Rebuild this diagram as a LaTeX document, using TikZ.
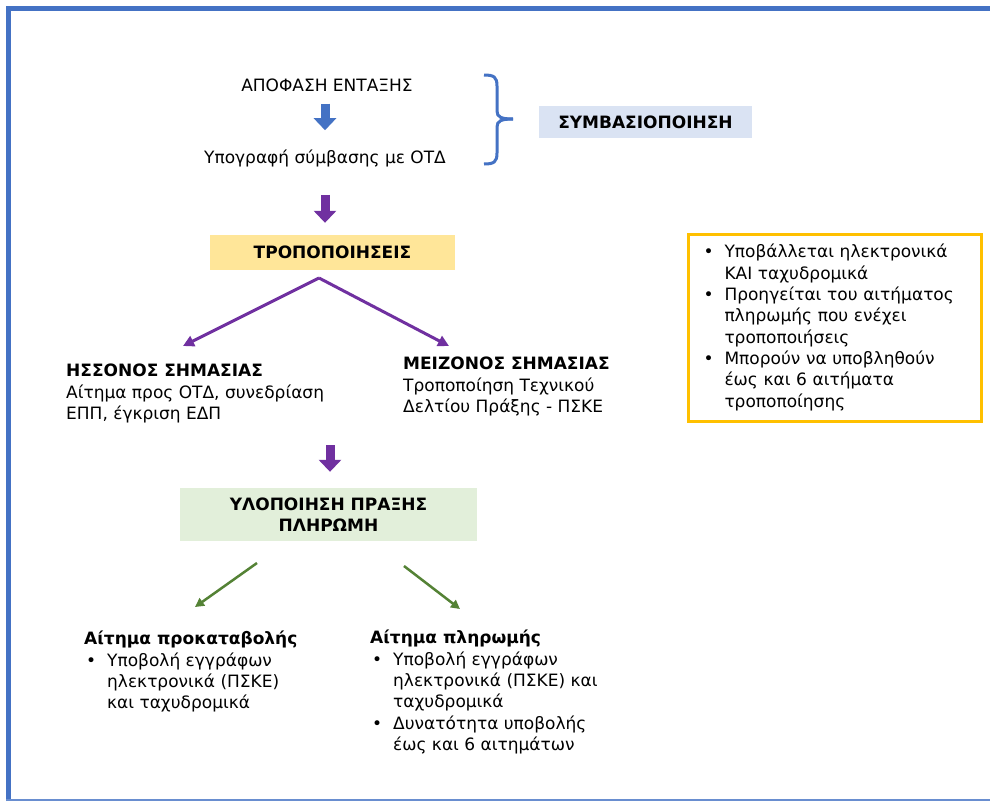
\documentclass[tikz,border=0pt]{standalone}
\usepackage{fontspec}
\setmainfont{DejaVu Sans}
\usetikzlibrary{positioning,arrows.meta}

\definecolor{frameblue}{HTML}{4472C4}
\definecolor{purplearr}{HTML}{7030A0}
\definecolor{greenarr}{HTML}{548235}
\definecolor{boxblue}{HTML}{DAE3F3}
\definecolor{boxyellow}{HTML}{FFE699}
\definecolor{boxgreen}{HTML}{E2EFDA}
\definecolor{notegold}{HTML}{FFC000}

\newcommand{\basefont}{\fontsize{17}{21.3}\selectfont}
\newcommand{\bul}{\makebox[23pt][l]{\hspace*{2pt}\textbullet}}
\newcommand{\ind}{\hspace*{23pt}}

\tikzset{
  stagebox/.style={inner sep=0pt, font=\basefont\bfseries},
  textblock/.style={inner sep=0pt, anchor=north west, align=left},
  bigarrow/.style={line width=9pt, -{Triangle[length=12pt,width=22pt]}},
  fork/.style={purplearr, line width=3pt, -{Triangle[length=11pt,width=11pt]}},
  branch/.style={greenarr, line width=2.5pt, -{Triangle[length=9pt,width=9pt]}}
}

\begin{document}
\begin{tikzpicture}[x=1pt,y=-1pt,font=\basefont]
\useasboundingbox (0,0) rectangle (990,801);
\fill[white] (0,0) rectangle (990,801);
\draw[frameblue, line width=5pt] (8.5,801) -- (8.5,8) -- (990,8);
\draw[frameblue!80, line width=2pt] (6,800) -- (990,800);

\node[inner sep=0pt] (apofasi) at (327,85) {ΑΠΟΦΑΣΗ ΕΝΤΑΞΗΣ};
\node[inner sep=0pt] (ypografi) at (325,158) {Υπογραφή σύμβασης με ΟΤΔ};
\node[stagebox, fill=boxblue, minimum width=213pt, minimum height=32pt] (symvasi) at (645.5,122) {ΣΥΜΒΑΣΙΟΠΟΙΗΣΗ};
\draw[frameblue, line width=3pt] (484,75) .. controls (494,75) and (497,77) .. (497,86) -- (497,111) .. controls (497,117) and (501,119) .. (513,119);
\draw[frameblue, line width=3pt] (513,119) .. controls (501,119) and (497,121) .. (497,127) -- (497,153) .. controls (497,162) and (494,164) .. (484,164);

\node[stagebox, fill=boxyellow, minimum width=245pt, minimum height=35pt] (tropo) at (332.5,252.5) {ΤΡΟΠΟΠΟΙΗΣΕΙΣ};
\node[textblock] (hssonos) at (66,364) {\textbf{ΗΣΣΟΝΟΣ ΣΗΜΑΣΙΑΣ}\\Αίτημα προς ΟΤΔ, συνεδρίαση\\ΕΠΠ, έγκριση ΕΔΠ};
\node[textblock] (meizonos) at (403,357) {\textbf{ΜΕΙΖΟΝΟΣ ΣΗΜΑΣΙΑΣ}\\Τροποποίηση Τεχνικού\\Δελτίου Πράξης - ΠΣΚΕ};
\node[draw=notegold, line width=3pt, minimum width=293pt, minimum height=187pt, text width=266pt, align=left, inner sep=0pt] (note) at (834.5,327.5) {\bul Υποβάλλεται ηλεκτρονικά\\\ind ΚΑΙ ταχυδρομικά\\\bul Προηγείται του αιτήματος\\\ind πληρωμής που ενέχει\\\ind τροποποιήσεις\\\bul Μπορούν να υποβληθούν\\\ind έως και 6 αιτήματα\\\ind τροποποίησης};

\node[stagebox, fill=boxgreen, minimum width=297pt, minimum height=53pt, align=center] (ylopoiisi) at (328.5,514.5) {ΥΛΟΠΟΙΗΣΗ ΠΡΑΞΗΣ\\ΠΛΗΡΩΜΗ};
\node[textblock] (prokatavoli) at (84,631) {\textbf{Αίτημα προκαταβολής}\\\bul Υποβολή εγγράφων\\\ind ηλεκτρονικά (ΠΣΚΕ)\\\ind και ταχυδρομικά};
\node[textblock] (pliromi) at (370,630) {\textbf{Αίτημα πληρωμής}\\\bul Υποβολή εγγράφων\\\ind ηλεκτρονικά (ΠΣΚΕ) και\\\ind ταχυδρομικά\\\bul Δυνατότητα υποβολής\\\ind έως και 6 αιτημάτων};

\coordinate (split) at (319,278);
\coordinate (hssonos-in) at (183,346);
\coordinate (meizonos-in) at (449,346);
\coordinate (merge) at (330,445);
\coordinate (left-out) at (257,563);
\coordinate (left-in) at (195,607);
\coordinate (right-out) at (404,566);
\coordinate (right-in) at (460,609);

\draw[bigarrow, frameblue, shorten <=12pt, shorten >=19pt] (apofasi.south -| ypografi.north) -- (ypografi.north);
\draw[bigarrow, purplearr, shorten <=28pt, shorten >=12pt] (ypografi.south) -- (tropo.north -| ypografi.south);
\draw[fork] (split) -- (hssonos-in);
\draw[fork] (split) -- (meizonos-in);
\draw[bigarrow, purplearr, shorten >=16pt] (merge) -- (merge |- ylopoiisi.north);
\draw[branch] (left-out) -- (left-in);
\draw[branch] (right-out) -- (right-in);
\end{tikzpicture}
\end{document}
